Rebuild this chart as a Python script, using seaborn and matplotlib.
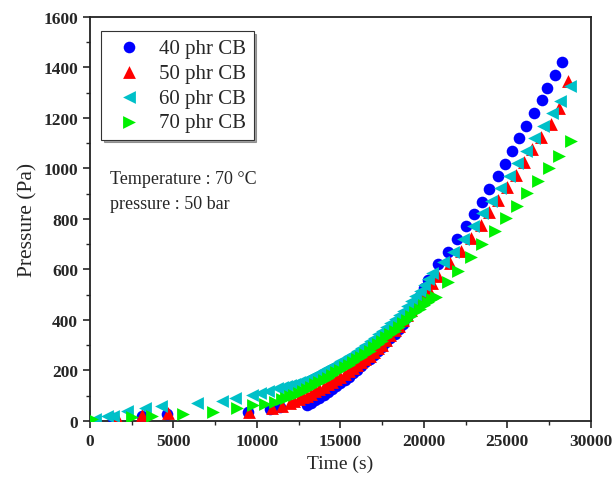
import matplotlib
matplotlib.use("Agg")
import matplotlib.pyplot as plt
import seaborn as sns
import pandas as pd
from matplotlib.ticker import MultipleLocator

sns.set_theme(style="ticks")
plt.rcParams['font.family'] = ['Liberation Serif', 'DejaVu Serif']

# --- data (time in s, pressure in Pa) ---
t_40 = [1400, 3090, 4590, 9440, 10780, 11380,
        13000, 13250, 13500, 13750, 14000, 14250, 14500, 14750, 15000, 15250,
        15500, 15750, 16000, 16250, 16500, 16750, 17000, 17250, 17500, 17750,
        18000, 18250, 18500, 18750, 19000, 19250, 19500, 19750, 20000, 20250,
        20857, 21456, 22018, 22557, 23013, 23515, 23910, 24431, 24892, 25311,
        25707, 26149, 26628, 27066, 27407, 27862, 28305]
p_40 = [11, 19, 28, 37, 48, 57,
        65, 73, 82, 92, 102, 113, 125, 137, 150, 163,
        176, 189, 203, 217, 232, 247, 262, 278, 294, 311,
        328, 345, 363, 385, 410, 435, 465, 495, 525, 558,
        622, 670, 721, 771, 821, 868, 920, 971, 1018, 1070,
        1121, 1169, 1220, 1270, 1320, 1371, 1420]

t_50 = [1600, 3090, 4650, 9500, 10900, 11480,
        12000, 12250, 12500, 12750, 13000, 13250, 13500, 13750, 14000, 14250,
        14500, 14750, 15000, 15250, 15500, 15750, 16000, 16250, 16500, 16750,
        17000, 17250, 17500, 17750, 18000, 18250, 18500, 18750, 19000, 19250,
        19500, 19750, 20000, 20250, 20500,
        20860, 21560, 22210, 22800, 23400, 23900, 24450, 25000, 25500, 26000,
        26500, 27050, 27600, 28100, 28650]
p_50 = [11, 24, 32, 37, 52, 61,
        72, 78, 85, 93, 100, 108, 117, 126, 135, 145,
        155, 165, 175, 186, 197, 208, 220, 232, 245, 258,
        272, 287, 302, 320, 340, 359, 378, 398, 418, 439,
        460, 482, 505, 527, 548,
        575, 626, 674, 725, 776, 826, 876, 926, 976, 1026,
        1076, 1126, 1178, 1240, 1345]

t_60 = [300, 1000, 1400, 2200, 3290, 4250, 6390, 7890, 8680, 9680, 10180,
        10680, 11180,
        11500, 11750, 12000, 12250, 12500, 12750, 13000, 13250, 13500, 13750,
        14000, 14250, 14500, 14750, 15000, 15250, 15500, 15750, 16000, 16250,
        16500, 16750, 17000, 17250, 17500, 17750, 18000, 18250, 18500, 18750,
        19000, 19250, 19500, 19750, 20000, 20250, 20500,
        21160, 21760, 22350, 22950, 23510, 24010, 24550, 25110, 25610, 26100,
        26600, 27140, 27700, 28140, 28740]
p_60 = [8, 19, 21, 41, 50, 61, 71, 80, 90, 103, 111,
        120, 129,
        135, 139, 143, 148, 153, 160, 167, 175, 183, 191,
        200, 209, 218, 227, 237, 247, 257, 267, 278, 289,
        300, 315, 330, 344, 358, 373, 388, 404, 420, 437,
        455, 475, 495, 516, 538, 561, 585,
        628, 670, 721, 771, 822, 870, 921, 971, 1022, 1070,
        1119, 1169, 1220, 1268, 1328]

t_70 = [100, 2500, 3690, 5590, 7390, 8820, 9780, 10480, 11080,
        11500, 11750, 12000, 12250, 12500, 12750, 13000, 13250, 13500, 13750,
        14000, 14250, 14500, 14750, 15000, 15250, 15500, 15750, 16000, 16250,
        16500, 16750, 17000, 17250, 17500, 17750, 18000, 18250, 18500, 18750,
        19000, 19250, 19500, 19750, 20000, 20250, 20500, 20750,
        21460, 22060, 22850, 23510, 24250, 24910, 25610, 26210, 26840, 27500,
        28100, 28840]
p_70 = [8, 15, 21, 28, 37, 50, 63, 67, 76,
        85, 92, 98, 104, 112, 120, 128, 136, 145, 154,
        163, 172, 182, 192, 202, 212, 222, 233, 244, 255,
        267, 279, 291, 304, 317, 331, 345, 358, 372, 386,
        400, 415, 430, 444, 458, 470, 481, 490,
        549, 595, 648, 701, 751, 803, 853, 902, 952, 1000,
        1050, 1108]

series = [
    ("40 phr CB", t_40, p_40, "o", "#0000ff", 70),
    ("50 phr CB", t_50, p_50, "^", "#ff0000", 85),
    ("60 phr CB", t_60, p_60, "<", "#00c0c8", 85),
    ("70 phr CB", t_70, p_70, ">", "#00f000", 85),
]

fig = plt.figure(figsize=(6.16, 4.85), dpi=100)
ax = fig.add_axes([0.146, 0.130, 0.813, 0.833])

for name, t, p, mk, col, s in series:
    df = pd.DataFrame({"Time": t, "Pressure": p})
    sns.scatterplot(data=df, x="Time", y="Pressure", marker=mk, color=col,
                    s=s, linewidth=0, label=name, ax=ax, zorder=3)

ax.set_xlim(0, 30000)
ax.set_ylim(0, 1600)
ax.xaxis.set_major_locator(MultipleLocator(5000))
ax.xaxis.set_minor_locator(MultipleLocator(2500))
ax.yaxis.set_major_locator(MultipleLocator(200))
ax.yaxis.set_minor_locator(MultipleLocator(100))
ax.tick_params(which='major', direction='out', length=5, width=1.2,
               labelsize=12.5, top=False, right=False)
ax.tick_params(which='minor', direction='out', length=3, width=1.0,
               top=False, right=False)
for lab in ax.get_xticklabels() + ax.get_yticklabels():
    lab.set_fontweight('bold')
for sp in ax.spines.values():
    sp.set_linewidth(1.3)
    sp.set_color('#222222')

ax.set_xlabel("Time (s)", fontsize=14)
ax.set_ylabel("Pressure (Pa)", fontsize=15.5)
ax.yaxis.set_label_coords(-0.104, 0.5)

leg = ax.legend(loc='upper left', bbox_to_anchor=(0.022, 0.965), fontsize=15,
                frameon=True, fancybox=False, shadow=True, edgecolor='#333333',
                handletextpad=0.45, borderpad=0.35, labelspacing=0.25,
                handlelength=2.0, borderaxespad=0)
leg.get_frame().set_linewidth(0.8)

ax.text(0.04, 0.600, "Temperature : 70 °C", transform=ax.transAxes,
        fontsize=13, va='center')
ax.text(0.04, 0.538, "pressure : 50 bar", transform=ax.transAxes,
        fontsize=13, va='center')

fig.savefig("out.png", dpi=100)
